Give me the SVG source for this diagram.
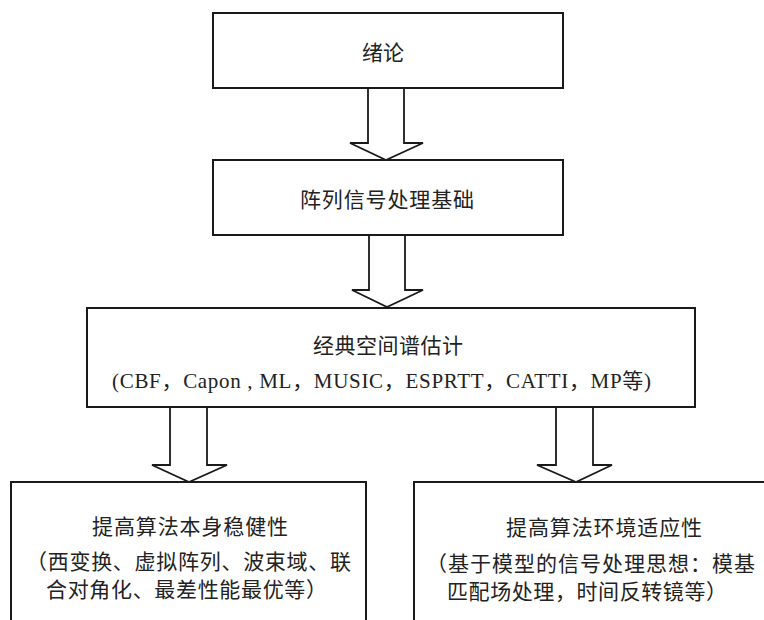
<svg xmlns="http://www.w3.org/2000/svg" width="764" height="620" viewBox="0 0 764 620">
<style>
.box{fill:#fff;stroke:#1a1a1a;stroke-width:2}
.arr{fill:#fff;stroke:#1a1a1a;stroke-width:1.8;stroke-linejoin:miter}
.cjk{font-family:"Noto Sans CJK SC","Noto Sans CJK TC",sans-serif;font-size:21px;fill:#222}
.mix{font-family:"Liberation Serif","Noto Sans CJK SC",serif;font-size:21px;fill:#222}
</style>
<rect width="764" height="620" fill="#fff"/>
<g id="n1">
<rect class="box" x="213" y="13" width="350" height="75"/>
<text class="cjk" x="383" y="60" text-anchor="middle">绪论</text>
</g>
<g id="n2">
<rect class="box" x="213" y="160" width="350" height="75"/>
<text class="cjk" x="300" y="207" textLength="174" lengthAdjust="spacing">阵列信号处理基础</text>
</g>
<g id="n3">
<rect class="box" x="87" y="308" width="608" height="99"/>
<text class="cjk" x="313" y="353" textLength="150" lengthAdjust="spacing">经典空间谱估计</text>
<text class="mix" x="112" y="388" textLength="539" lengthAdjust="spacing">(CBF，Capon , ML，MUSIC，ESPRTT，CATTI，MP等)</text>
</g>
<g id="n4">
<rect class="box" x="11" y="482" width="355" height="150"/>
<text class="cjk" x="92" y="534" textLength="196" lengthAdjust="spacing">提高算法本身稳健性</text>
<text class="cjk" x="26" y="569" textLength="325" lengthAdjust="spacing">（西变换、虚拟阵列、波束域、联</text>
<text class="cjk" x="46" y="597" textLength="281" lengthAdjust="spacing">合对角化、最差性能最优等）</text>
</g>
<g id="n5">
<rect class="box" x="414" y="482" width="360" height="150"/>
<text class="cjk" x="506" y="535" textLength="196" lengthAdjust="spacing">提高算法环境适应性</text>
<text class="cjk" x="426" y="571" textLength="329" lengthAdjust="spacing">（基于模型的信号处理思想：模基</text>
<text class="cjk" x="447" y="599" textLength="280" lengthAdjust="spacing">匹配场处理，时间反转镜等）</text>
</g>
<g id="connectors">
<polygon class="arr" points="368,88 404,88 404,143 423,143 386,160 350,143 368,143"/>
<polygon class="arr" points="369,235 405,235 405,290 423,290 387,307 352,290 369,290"/>
<polygon class="arr" points="170,407 207,407 207,465 227,465 189,482 152,465 170,465"/>
<polygon class="arr" points="556,407 593,407 593,465 612,465 576,482 537,465 556,465"/>
</g>
</svg>
